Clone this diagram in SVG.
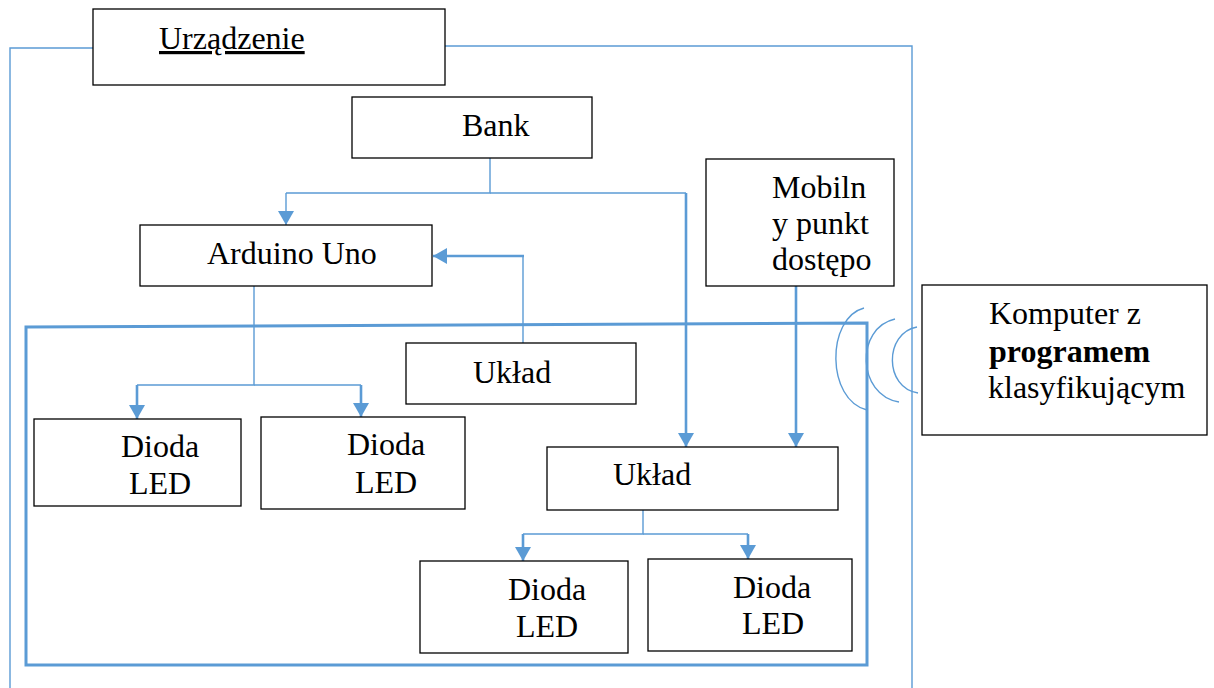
<svg xmlns="http://www.w3.org/2000/svg" width="1214" height="688" viewBox="0 0 1214 688">
<style>
.box{fill:#fff;stroke:#000;stroke-width:1.3}
.t{font-family:'Liberation Serif',Tinos,'Times New Roman','DejaVu Serif',serif;font-size:32px;fill:#000}
.b{font-weight:bold}
.thin{fill:none;stroke:#5B9BD5;stroke-width:1.4}
.thick{fill:none;stroke:#5B9BD5;stroke-width:2.6}
.frame{fill:none;stroke:#5B9BD5;stroke-width:1.4}
.inner{fill:none;stroke:#5B9BD5;stroke-width:3}
</style>
<defs>
<marker id="ah" viewBox="0 0 14 16" refX="14" refY="8" markerWidth="14" markerHeight="16" markerUnits="userSpaceOnUse" orient="auto">
<path d="M0,0 L14,8 L0,16 Z" fill="#5B9BD5"/>
</marker>
</defs>
<rect width="1214" height="688" fill="#fff"/>
<g id="frames">
<path class="frame" d="M93,48 H10 V688"/>
<path class="frame" d="M445,46 H912 V688"/>
<path class="inner" d="M26,665 V327 L867,323 V665 Z"/>
</g>
<g id="wireless">
<path class="thin" d="M864,308 C826,318 826,400 867,410"/>
<path class="thin" d="M895,319 C855,328 857,395 899,402"/>
<path class="thin" d="M917,327 C884,333 884,388 918,393"/>
</g>
<g id="connectors">
<path class="thin" d="M490,158 V193 H286"/>
<path class="thin" d="M286,193 V225" marker-end="url(#ah)"/>
<path class="thin" d="M490,193 H686"/>
<path class="thick" d="M686,193 V447" marker-end="url(#ah)"/>
<path class="thick" d="M796,286 V447" marker-end="url(#ah)"/>
<path class="thin" d="M523,343 V256"/>
<path class="thick" d="M524,256 H433" marker-end="url(#ah)"/>
<path class="thin" d="M254,286 V385 H137"/>
<path class="thick" d="M137,385 V419" marker-end="url(#ah)"/>
<path class="thin" d="M254,385 H361"/>
<path class="thick" d="M361,385 V417" marker-end="url(#ah)"/>
<path class="thin" d="M643,510 V534 H523"/>
<path class="thick" d="M523,534 V561" marker-end="url(#ah)"/>
<path class="thin" d="M643,534 H748"/>
<path class="thick" d="M748,534 V559" marker-end="url(#ah)"/>
</g>
<g id="urzadzenie">
<rect class="box" x="93" y="9" width="352" height="76"/>
<text class="t" x="159" y="49" text-decoration="underline">Urządzenie</text>
</g>
<g id="bank">
<rect class="box" x="352" y="97" width="240" height="61"/>
<text class="t" x="462" y="136">Bank</text>
</g>
<g id="mobilny">
<rect class="box" x="706" y="159" width="188" height="127"/>
<text class="t" x="772" y="198">Mobiln</text>
<text class="t" x="772" y="234">y punkt</text>
<text class="t" x="772" y="270">dostępo</text>
</g>
<g id="arduino">
<rect class="box" x="140" y="225" width="292" height="61"/>
<text class="t" x="207" y="264">Arduino Uno</text>
</g>
<g id="komputer">
<rect class="box" x="922" y="285" width="285" height="150"/>
<text class="t" x="989" y="324">Komputer z</text>
<text class="t b" x="989" y="362">programem</text>
<text class="t" x="988" y="398">klasyfikującym</text>
</g>
<g id="uklad1">
<rect class="box" x="406" y="343" width="230" height="61"/>
<text class="t" x="473" y="383">Układ</text>
</g>
<g id="dioda1">
<rect class="box" x="34" y="419" width="207" height="87"/>
<text class="t" x="121" y="457">Dioda</text>
<text class="t" x="129" y="494">LED</text>
</g>
<g id="dioda2">
<rect class="box" x="261" y="417" width="204" height="92"/>
<text class="t" x="347" y="455">Dioda</text>
<text class="t" x="355" y="493">LED</text>
</g>
<g id="uklad2">
<rect class="box" x="547" y="447" width="291" height="63"/>
<text class="t" x="613" y="485">Układ</text>
</g>
<g id="dioda3">
<rect class="box" x="420" y="561" width="208" height="92"/>
<text class="t" x="508" y="600">Dioda</text>
<text class="t" x="516" y="637">LED</text>
</g>
<g id="dioda4">
<rect class="box" x="648" y="559" width="204" height="92"/>
<text class="t" x="733" y="598">Dioda</text>
<text class="t" x="742" y="634">LED</text>
</g>
</svg>
